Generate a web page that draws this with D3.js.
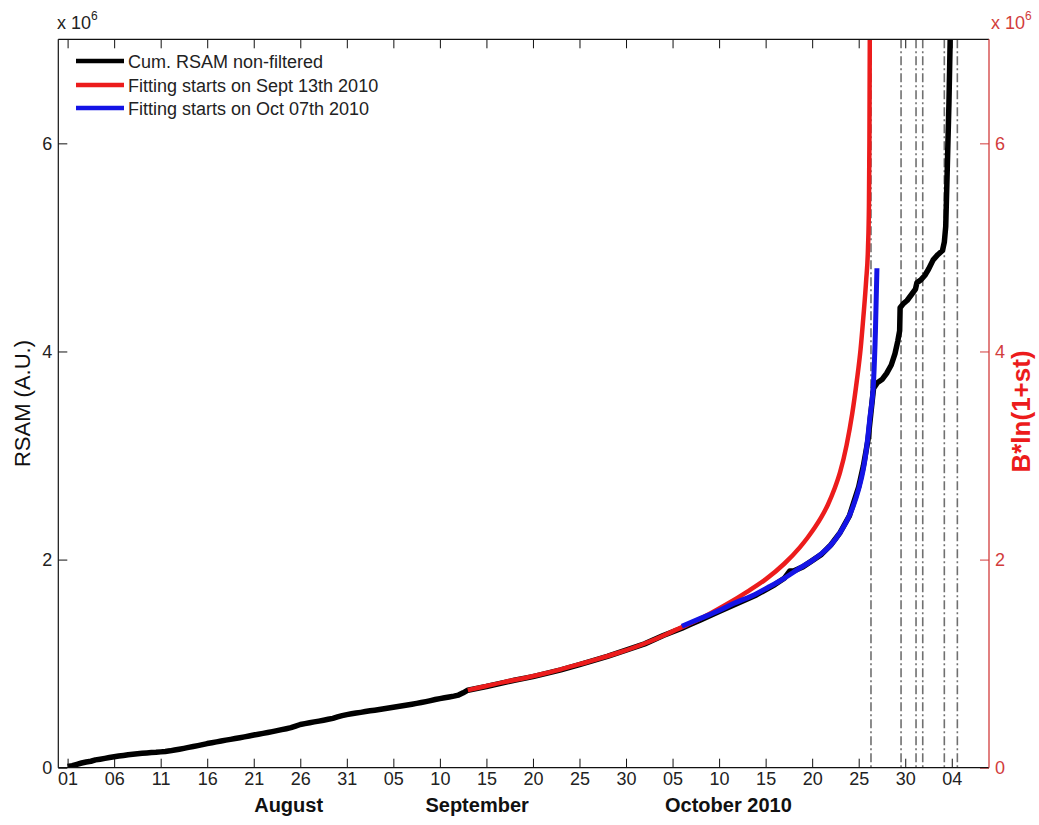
<!DOCTYPE html>
<html>
<head>
<meta charset="utf-8">
<script src="https://cdn.jsdelivr.net/npm/d3@7"></script>
<style>
  html, body { margin: 0; padding: 0; background: #fff; }
  svg { display: block; font-family: "Liberation Sans", Arial, Helvetica, sans-serif; }
</style>
</head>
<body>
<svg id="chart" width="1039" height="825"></svg>
<script>
// Time is given in days since 2010-08-01 00:00 UTC, RSAM values in units of 10^6.
const START = Date.UTC(2010, 7, 1);

// Cumulative RSAM (non-filtered)
const rsamDays = [
  0, 0.5, 1, 1.5, 2, 2.5, 3, 3.5, 4, 4.5, 5, 5.5, 6, 6.5, 7, 7.5, 8, 8.5, 9, 9.5,
  10, 10.5, 11, 11.5, 12, 12.5, 13, 13.5, 14, 14.5, 15, 15.5, 16, 16.5, 17, 17.5, 18, 18.5, 19, 19.5,
  20, 20.5, 21, 21.5, 22, 22.5, 23, 23.5, 24, 24.5, 25, 25.5, 26, 26.5, 27, 27.5, 28, 28.5, 29, 29.5,
  30, 30.5, 31, 31.5, 32, 32.5, 33, 33.5, 34, 34.5, 35, 35.5, 36, 36.5, 37, 37.5, 38, 38.5, 39, 39.5,
  40, 40.5, 41, 41.5, 42, 42.5, 43,
  45, 48, 50, 53, 55, 58, 60, 62, 64, 66, 67,
  68, 70, 72, 74, 76, 77, 77.6, 78, 79, 80, 81, 82, 83, 84, 85, 85.5, 86, 86.3, 86.6,
  86.7, 87, 87.5, 88, 88.5, 88.9, 89.2, 89.4, 89.45, 89.8, 90.2, 90.7, 91.1, 91.25, 91.7, 92.1,
  92.5, 93, 93.5, 94, 94.2, 94.35, 94.5, 94.7, 94.85
];
const rsamValues = [
  0.012, 0.02, 0.033, 0.045, 0.055, 0.062, 0.075, 0.082, 0.09, 0.098, 0.105, 0.112, 0.118, 0.125, 0.13, 0.134, 0.138, 0.142, 0.145, 0.148,
  0.152, 0.156, 0.162, 0.17, 0.178, 0.186, 0.195, 0.203, 0.212, 0.222, 0.232, 0.24, 0.248, 0.256, 0.265, 0.272, 0.28, 0.288, 0.296, 0.305,
  0.314, 0.322, 0.33, 0.338, 0.347, 0.356, 0.366, 0.375, 0.385, 0.4, 0.415, 0.424, 0.432, 0.44, 0.448, 0.456, 0.465, 0.474, 0.488, 0.5,
  0.51, 0.518, 0.525, 0.532, 0.54, 0.547, 0.553, 0.56, 0.567, 0.574, 0.581, 0.588, 0.596, 0.603, 0.61, 0.618, 0.626, 0.635, 0.645, 0.655,
  0.664, 0.672, 0.68, 0.688, 0.698, 0.72, 0.745,
  0.78, 0.84, 0.875, 0.94, 0.99, 1.07, 1.13, 1.19, 1.27, 1.34, 1.38,
  1.42, 1.5, 1.58, 1.66, 1.76, 1.82, 1.89, 1.89, 1.93, 1.99, 2.05, 2.14, 2.26, 2.42, 2.7, 2.9, 3.15, 3.4, 3.65,
  3.66, 3.7, 3.73, 3.79, 3.87, 3.98, 4.1, 4.2, 4.42, 4.46, 4.49, 4.55, 4.6, 4.66, 4.69, 4.73,
  4.79, 4.88, 4.93, 4.97, 5.05, 5.2, 5.7, 6.4, 7.1
];

// Fit starting on Sept 13th 2010
const fitSepDays = [
  43, 45, 47, 49, 51, 53, 55, 57, 59, 61, 63, 65, 67, 69, 71, 73, 75, 77, 78.7, 79.5,
  80.3, 81, 81.7, 82.4, 83, 83.7, 84.3, 84.8, 85.2, 85.5, 85.8, 86.0, 86.1, 86.15, 86.2
];
const fitSepValues = [
  0.745, 0.785, 0.825, 0.86, 0.9, 0.945, 0.995, 1.045, 1.1, 1.16, 1.23, 1.31, 1.39, 1.48, 1.58, 1.69, 1.81, 1.96, 2.12, 2.21,
  2.31, 2.41, 2.53, 2.68, 2.84, 3.10, 3.40, 3.72, 4.02, 4.33, 4.68, 5.0, 5.4, 6.0, 7.2
];

// Fit starting on Oct 07th 2010
const fitOctDays = [
  66, 68, 70, 71.6, 73.5, 75.2, 77, 78.7, 80, 80.9, 82, 83, 83.6, 84.4, 85, 85.5, 85.8, 86.2, 86.6, 86.8, 86.96
];
const fitOctValues = [
  1.36, 1.435, 1.51, 1.58, 1.65, 1.73, 1.82, 1.92, 1.99, 2.05, 2.14, 2.26, 2.35, 2.51, 2.68, 2.87, 3.04, 3.36, 3.72, 4.2, 4.8
];

// Event markers (dash-dot vertical lines)
const eventDays = [86.32, 89.55, 91.16, 91.88, 94.2, 95.6];

// Axis ticks
const xTickDates = [
  "2010-08-01", "2010-08-06", "2010-08-11", "2010-08-16", "2010-08-21", "2010-08-26", "2010-08-31",
  "2010-09-05", "2010-09-10", "2010-09-15", "2010-09-20", "2010-09-25", "2010-09-30",
  "2010-10-05", "2010-10-10", "2010-10-15", "2010-10-20", "2010-10-25", "2010-10-30", "2010-11-04"
];
const xTickLabels = ["01", "06", "11", "16", "21", "26", "31", "05", "10", "15", "20", "25", "30",
                     "05", "10", "15", "20", "25", "30", "04"];
const yTicks = [0, 2, 4, 6];

const monthNames = ["August", "September", "October 2010"];
const monthDates = ["2010-08-24T18:00", "2010-09-14T00:00", "2010-10-11T00:00"];

const legendNames = ["Cum. RSAM non-filtered", "Fitting starts on Sept 13th 2010", "Fitting starts on Oct 07th 2010"];

const COL_BLACK = "#000";
const COL_RED = "#ec1c1c";
const COL_BLUE = "#1414e6";
const COL_AXIS_R = "#d23c3c";
const COL_TEXT = "#222";

const toDate = d => new Date(START + d * 864e5);
const parseUTC = s => new Date(s + (s.length === 10 ? "T00:00:00Z" : ":00Z"));

const plotLeft = 58.3, plotRight = 989, plotTop = 39.3, plotBottom = 767.7;

const x = d3.scaleUtc()
  .domain([new Date(Date.UTC(2010, 6, 31)), new Date(Date.UTC(2010, 10, 8))])
  .range([plotLeft, plotRight]);
const y = d3.scaleLinear().domain([0, 7]).range([plotBottom, plotTop]);
const y2 = d3.scaleLinear().domain([0, 7]).range([plotBottom, plotTop]);

const svg = d3.select("#chart");

svg.append("defs").append("clipPath").attr("id", "plotclip")
  .append("rect").attr("x", plotLeft).attr("y", plotTop)
  .attr("width", plotRight - plotLeft).attr("height", plotBottom - plotTop);

const plot = svg.append("g").attr("clip-path", "url(#plotclip)");

const rawLine = d3.line().x(d => x(d[0])).y(d => y(d[1])).curve(d3.curveLinear);
const fitLine = d3.line().x(d => x(d[0])).y(d => y(d[1])).curve(d3.curveMonotoneX);
const zipSeries = (days, vals) => days.map((d, i) => [toDate(d), vals[i]]);

// event markers
plot.selectAll("line.event").data(eventDays).join("line")
  .attr("class", "event")
  .attr("x1", d => x(toDate(d))).attr("x2", d => x(toDate(d)))
  .attr("y1", plotTop).attr("y2", plotBottom)
  .attr("stroke", "#707070").attr("stroke-width", 1.6)
  .attr("stroke-dasharray", "9,3,2,3");

plot.append("path").datum(zipSeries(rsamDays, rsamValues))
  .attr("d", rawLine).attr("fill", "none")
  .attr("stroke", COL_BLACK).attr("stroke-width", 5.5)
  .attr("stroke-linejoin", "round");

plot.append("path").datum(zipSeries(fitSepDays, fitSepValues))
  .attr("d", fitLine).attr("fill", "none")
  .attr("stroke", COL_RED).attr("stroke-width", 4.5)
  .attr("stroke-linejoin", "round");

plot.append("path").datum(zipSeries(fitOctDays, fitOctValues))
  .attr("d", fitLine).attr("fill", "none")
  .attr("stroke", COL_BLUE).attr("stroke-width", 5)
  .attr("stroke-linejoin", "round");

// Axes
const tickDates = xTickDates.map(parseUTC);
const TL = 9;

const xBottom = d3.axisBottom(x).tickValues(tickDates)
  .tickFormat((d, i) => xTickLabels[i]).tickSizeInner(-TL).tickSizeOuter(0).tickPadding(5);
const gxb = svg.append("g").attr("transform", `translate(0,${plotBottom})`).call(xBottom);
gxb.select(".domain").remove();
gxb.selectAll("text").attr("font-size", 18).attr("fill", COL_TEXT)
  .attr("font-family", "Liberation Sans, Arial, sans-serif");
gxb.selectAll(".tick line").attr("stroke", "#111");

const xTop = d3.axisTop(x).tickValues(tickDates).tickFormat("")
  .tickSizeInner(-TL).tickSizeOuter(0);
const gxt = svg.append("g").attr("transform", `translate(0,${plotTop})`).call(xTop);
gxt.select(".domain").remove();
gxt.selectAll(".tick line").attr("stroke", "#111");

const yLeft = d3.axisLeft(y).tickValues(yTicks).tickFormat(d3.format("d"))
  .tickSizeInner(-TL).tickSizeOuter(0).tickPadding(6);
const gyl = svg.append("g").attr("transform", `translate(${plotLeft},0)`).call(yLeft);
gyl.select(".domain").remove();
gyl.selectAll("text").attr("font-size", 18).attr("fill", COL_TEXT)
  .attr("font-family", "Liberation Sans, Arial, sans-serif");
gyl.selectAll(".tick line").attr("stroke", "#111");

const yRight = d3.axisRight(y2).tickValues(yTicks).tickFormat(d3.format("d"))
  .tickSizeInner(-TL).tickSizeOuter(0).tickPadding(6);
const gyr = svg.append("g").attr("transform", `translate(${plotRight},0)`).call(yRight);
gyr.select(".domain").remove();
gyr.selectAll("text").attr("font-size", 18).attr("fill", COL_AXIS_R)
  .attr("font-family", "Liberation Sans, Arial, sans-serif");
gyr.selectAll(".tick line").attr("stroke", COL_AXIS_R);

// frame
svg.append("line").attr("x1", plotLeft).attr("x2", plotRight).attr("y1", plotTop).attr("y2", plotTop)
  .attr("stroke", "#111").attr("stroke-width", 1.2);
svg.append("line").attr("x1", plotLeft).attr("x2", plotRight).attr("y1", plotBottom).attr("y2", plotBottom)
  .attr("stroke", "#111").attr("stroke-width", 1.2);
svg.append("line").attr("x1", plotLeft).attr("x2", plotLeft).attr("y1", plotTop).attr("y2", plotBottom)
  .attr("stroke", "#111").attr("stroke-width", 1.2);
svg.append("line").attr("x1", plotRight).attr("x2", plotRight).attr("y1", plotTop).attr("y2", plotBottom)
  .attr("stroke", COL_AXIS_R).attr("stroke-width", 1.3);

// month labels
svg.selectAll("text.month").data(monthNames).join("text")
  .attr("class", "month")
  .attr("x", (d, i) => x(parseUTC(monthDates[i])))
  .attr("y", 812)
  .attr("text-anchor", "middle")
  .attr("font-size", 20).attr("font-weight", "bold").attr("fill", "#111")
  .text(d => d);

// exponent labels
function exponent(xpos, color) {
  const t = svg.append("text").attr("x", xpos).attr("y", 29)
    .attr("font-size", 18).attr("fill", color);
  t.append("tspan").text("x 10");
  t.append("tspan").attr("dy", -9).attr("font-size", 12).text("6");
}
exponent(57, COL_TEXT);
exponent(991, COL_AXIS_R);

// axis titles
svg.append("text")
  .attr("transform", `translate(30,${(plotTop + plotBottom) / 2}) rotate(-90)`)
  .attr("text-anchor", "middle").attr("font-size", 22).attr("fill", "#111")
  .text("RSAM (A.U.)");
svg.append("text")
  .attr("transform", `translate(1030,${(plotTop + plotBottom) / 2 + 8}) rotate(-90)`)
  .attr("text-anchor", "middle").attr("font-size", 26).attr("font-weight", "bold")
  .attr("fill", COL_RED)
  .text("B*ln(1+st)");

// legend
const legendColors = [COL_BLACK, COL_RED, COL_BLUE];
const legendRows = [61, 85, 108];
const lg = svg.append("g");
legendNames.forEach((name, i) => {
  lg.append("line").attr("x1", 76).attr("x2", 124)
    .attr("y1", legendRows[i]).attr("y2", legendRows[i])
    .attr("stroke", legendColors[i]).attr("stroke-width", 4.5);
  lg.append("text").attr("x", 128).attr("y", legendRows[i] + 6.5)
    .attr("font-size", 18).attr("fill", COL_TEXT).text(name);
});
</script>
</body>
</html>
